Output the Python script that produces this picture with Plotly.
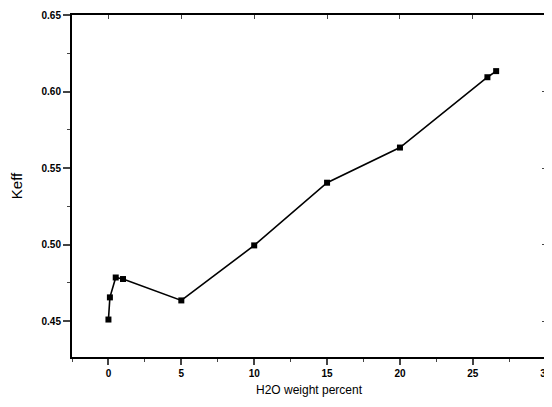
import plotly.graph_objects as go

h2o_pct = [0, 0.1, 0.5, 1, 5, 10, 15, 20, 26, 26.6]
keff = [0.451, 0.4655, 0.4785, 0.4775, 0.4635, 0.4995, 0.5405, 0.5635, 0.6095, 0.6135]

x_ticks = [0, 5, 10, 15, 20, 25, 30]
y_ticks = [0.45, 0.50, 0.55, 0.60, 0.65]
y_tick_labels = ["0.45", "0.50", "0.55", "0.60", "0.65"]

XR = [-2.5, 30.02]
YR = [0.4265, 0.6502]

fig = go.Figure()
fig.add_trace(go.Scatter(
    x=h2o_pct, y=keff, mode="lines+markers",
    line=dict(color="black", width=1.6),
    marker=dict(symbol="square", size=6, color="black"),
    showlegend=False,
))
fig.add_trace(go.Scatter(x=[None], y=[None], xaxis="x2", yaxis="y2", showlegend=False))

tickfont = dict(family="Liberation Sans", size=10, color="black", weight="bold")
fig.update_layout(
    width=544, height=401,
    margin=dict(l=64, r=6, t=7, b=52),
    plot_bgcolor="white", paper_bgcolor="white",
    xaxis=dict(
        range=XR, tickvals=x_ticks, ticks="outside", ticklen=6, tickwidth=1.5,
        linecolor="black", linewidth=2, showgrid=False, zeroline=False, mirror=True,
        tickfont=tickfont, automargin=False,
        minor=dict(ticks="outside", ticklen=3, tickwidth=1, dtick=2.5, tick0=0),
        title=dict(text="H2O weight percent", font=dict(family="Liberation Sans", size=12, color="black"), standoff=8),
    ),
    yaxis=dict(
        range=YR, tickvals=y_ticks, ticktext=y_tick_labels, ticks="outside", ticklen=7, tickwidth=1.5,
        linecolor="black", linewidth=2, showgrid=False, zeroline=False, mirror=True,
        tickfont=tickfont, automargin=False,
        minor=dict(ticks="outside", ticklen=3, tickwidth=1, dtick=0.025, tick0=0.45),
        title=dict(text="Keff", font=dict(family="Liberation Sans", size=15, color="black"), standoff=18),
    ),
    xaxis2=dict(
        range=XR, overlaying="x", side="top", tickvals=x_ticks, ticks="inside", ticklen=4,
        tickwidth=1.2, showticklabels=False, showline=False,
        showgrid=False, zeroline=False, automargin=False,
    ),
    yaxis2=dict(
        range=YR, overlaying="y", side="right", tickvals=y_ticks, ticks="inside", ticklen=4,
        tickwidth=1.2, showticklabels=False, showline=False,
        showgrid=False, zeroline=False, automargin=False,
    ),
)

fig.write_html("out.html")
